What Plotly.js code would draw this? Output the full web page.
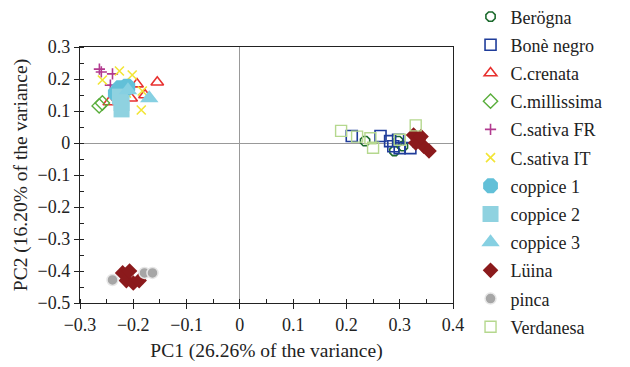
<!DOCTYPE html>
<html><head><meta charset="utf-8">
<script src="https://cdn.plot.ly/plotly-3.0.1.min.js"></script>
<style>html,body{margin:0;padding:0;background:#fff}#chart{width:630px;height:367px}</style>
</head><body><div id="chart"></div>
<script>
const groups = ["Berögna","Bonè negro","C.crenata","C.millissima","C.sativa FR","C.sativa IT","coppice 1","coppice 2","coppice 3","Lüina","pinca","Verdanesa"];

const beregnaPC1 = [0.235, 0.29, 0.297, 0.306];
const beregnaPC2 = [0.006, -0.025, 0.006, -0.01];
const boneNegroPC1 = [0.21, 0.264, 0.282, 0.297, 0.30, 0.32, 0.335, 0.288];
const boneNegroPC2 = [0.022, 0.022, 0.006, 0.01, -0.016, -0.016, 0.006, -0.01];
const crenataPC1 = [-0.155, -0.204, -0.245, -0.193, -0.178];
const crenataPC2 = [0.19, 0.14, 0.128, 0.184, 0.15];
const millissimaPC1 = [-0.264, -0.258];
const millissimaPC2 = [0.116, 0.125];
const sativaFRPC1 = [-0.2636, -0.26, -0.239, -0.243];
const sativaFRPC2 = [0.231, 0.222, 0.216, 0.181];
const sativaITPC1 = [-0.226, -0.258, -0.202, -0.183, -0.185, -0.213];
const sativaITPC2 = [0.225, 0.197, 0.2125, 0.1625, 0.103, 0.156];
const coppice1PC1 = [-0.225, -0.212, -0.232];
const coppice1PC2 = [0.17, 0.175, 0.155];
const coppice2PC1 = [-0.222, -0.222, -0.225];
const coppice2PC2 = [0.105, 0.125, 0.145];
const coppice3PC1 = [-0.17, -0.21];
const coppice3PC2 = [0.14, 0.165];
const luinaPC1 = [0.326, 0.335, 0.345, 0.355, 0.33, 0.34, -0.22, -0.213, -0.2, -0.207, -0.189];
const luinaPC2 = [0.025, 0.01, -0.01, -0.025, 0.0, 0.02, -0.406, -0.43, -0.4375, -0.4, -0.43];
const pincaPC1 = [-0.239, -0.179, -0.164];
const pincaPC2 = [-0.428, -0.406, -0.406];
const verdanesaPC1 = [0.19, 0.245, 0.25, 0.33, 0.3, 0.22];
const verdanesaPC2 = [0.038, 0.015, -0.015, 0.055, 0.01, 0.02];

const xs = [beregnaPC1, boneNegroPC1, crenataPC1, millissimaPC1, sativaFRPC1, sativaITPC1, coppice1PC1, coppice2PC1, coppice3PC1, luinaPC1, pincaPC1, verdanesaPC1];
const ys = [beregnaPC2, boneNegroPC2, crenataPC2, millissimaPC2, sativaFRPC2, sativaITPC2, coppice1PC2, coppice2PC2, coppice3PC2, luinaPC2, pincaPC2, verdanesaPC2];

const styles = [
  {symbol:'octagon-open', color:'#1d6b2e', size:10, w:1.6},
  {symbol:'square-open', color:'#1f3c9a', size:11, w:1.6},
  {symbol:'triangle-up-open', color:'#e8312f', size:11, w:1.6},
  {symbol:'diamond-open', color:'#5aae3c', size:11, w:1.4},
  {symbol:'cross-thin-open', color:'#b23a8f', size:8, w:1.6},
  {symbol:'x-thin-open', color:'#f2e535', size:9, w:1.6},
  {symbol:'octagon', color:'#62c0d8', size:18, w:0},
  {symbol:'square', color:'#8fd2e0', size:16, w:0},
  {symbol:'triangle-up', color:'#86d0e2', size:16, w:0},
  {symbol:'diamond', color:'#8b1a1c', size:12, w:0},
  {symbol:'circle', color:'#a6a6a6', size:11, w:1.5, line:'#e6e6e6'},
  {symbol:'square-open', color:'#b5d88e', size:11, w:1.4}
];

const traces = groups.map((g,i)=>({
  type:'scatter', mode:'markers', name:g, x:xs[i], y:ys[i], legendgroup:'g'+i,
  marker:{symbol:styles[i].symbol, size:styles[i].size, color:styles[i].color,
    line:{width:styles[i].w, color:styles[i].line || styles[i].color}}
}));

const fam = '"Liberation Serif", "DejaVu Serif", serif';
const font = {family:fam, color:'#222'};
const axCommon = {
  showgrid:false, showline:true, linecolor:'#222', linewidth:1.2,
  ticks:'outside', ticklen:5, tickcolor:'#222', tickfont:{size:18, family:fam, color:'#222'},
  zeroline:true, zerolinecolor:'#999', zerolinewidth:1,
  minor:{ticks:'inside', ticklen:4, dtick:0.05, tickcolor:'#222'}
};

const layout = {
  width:630, height:367, margin:{l:80, r:177, t:47, b:64, autoexpand:false},
  paper_bgcolor:'#fff', plot_bgcolor:'#fff', font:font,
  xaxis:Object.assign({}, axCommon, {range:[-0.3,0.4], dtick:0.1, tick0:0, mirror:true, automargin:false,
    title:{text:'PC1 (26.26% of the variance)', font:{size:19.5, family:fam, color:'#222'}, standoff:9}}),
  yaxis:Object.assign({}, axCommon, {range:[-0.5,0.3], dtick:0.1, tick0:0, mirror:true, automargin:false,
    title:{text:'PC2 (16.20% of the variance)', font:{size:19.5, family:fam, color:'#222'}, standoff:4}}),
  showlegend:true,
  legend:{x:1.047, xanchor:'left', y:1.19, yanchor:'top', traceorder:'grouped', tracegroupgap:1.8,
    maxheight:1000,
    font:{size:18, family:fam, color:'#222'}, itemwidth:30, bgcolor:'rgba(0,0,0,0)'}
};

Plotly.newPlot('chart', traces, layout, {displayModeBar:false, staticPlot:true});
</script></body></html>
